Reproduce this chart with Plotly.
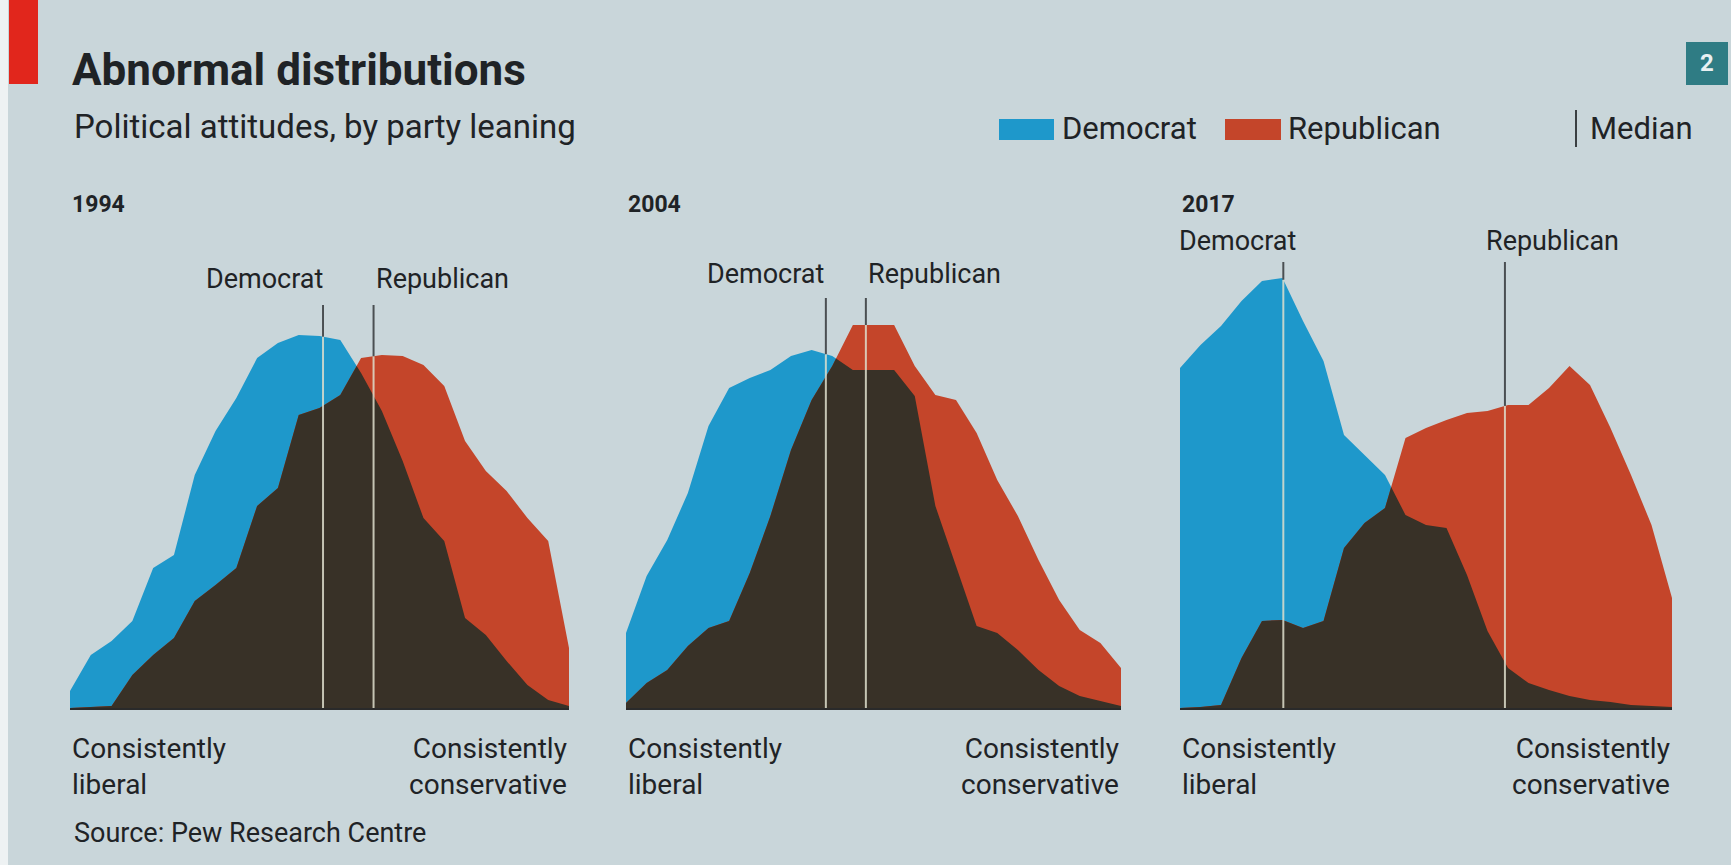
import numpy as np
import plotly.graph_objects as go

# --- data, 25 evenly spaced points per panel ---
x_idx = list(range(25))
years = ['1994', '2004', '2017']

dem_1994 = [17, 53, 67, 87, 140, 153, 233, 277, 310, 350, 365, 373, 372, 368, 335, 297, 247, 190, 167, 90, 73, 47, 23, 8, 2]
rep_1994 = [0, 1, 2, 33, 53, 70, 107, 123, 140, 202, 220, 293, 300, 313, 350, 353, 352, 343, 322, 267, 237, 217, 190, 167, 60]

dem_2004 = [75, 132, 168, 215, 282, 320, 330, 338, 352, 358, 352, 338, 338, 338, 312, 202, 142, 82, 75, 58, 38, 22, 12, 7, 2]
rep_2004 = [5, 25, 38, 62, 80, 87, 135, 192, 258, 308, 342, 383, 383, 383, 342, 313, 308, 275, 228, 192, 148, 108, 78, 65, 40]

dem_2017 = [340, 363, 382, 407, 427, 430, 387, 347, 273, 253, 233, 193, 183, 180, 133, 77, 40, 25, 18, 12, 8, 6, 3, 2, 1]
rep_2017 = [0, 1, 3, 50, 87, 88, 80, 87, 160, 185, 200, 270, 280, 288, 295, 297, 303, 303, 320, 342, 323, 280, 233, 183, 110]

median_dem = [12.17, 9.69, 5.04]
median_rep = [14.6, 11.63, 15.85]

dem_series = [dem_1994, dem_2004, dem_2017]
rep_series = [rep_1994, rep_2004, rep_2017]

# --- style ---
W, H = 1731, 865
BG = '#c9d6da'
BLUE = '#1e98cb'
RED = '#c4452a'
DARK = '#383127'
TXT = '#1f2326'
FONT = 'Roboto, "Open Sans", sans-serif'

panel_px = [(70, 569), (626, 1121), (1180, 1672)]
base_px = 708
top_px = 200
y_top = base_px - top_px
label_h = [429, 434, 467]
line_top = [403, 410, 446]
dem_shift = [2, 0, 15]
rep_shift = [0, 0, -21]


def px_x(p):
    return p / W


def px_y(p):
    return 1 - p / H


def overlap(x, a, b):
    xs, ys = [], []
    for i in range(len(x)):
        if i > 0:
            d0 = a[i - 1] - b[i - 1]
            d1 = a[i] - b[i]
            if d0 * d1 < 0:
                t = d0 / (d0 - d1)
                xs.append(x[i - 1] + t * (x[i] - x[i - 1]))
                ys.append(a[i - 1] + t * (a[i] - a[i - 1]))
        xs.append(x[i])
        ys.append(min(a[i], b[i]))
    return xs, ys


fig = go.Figure()
shapes = []
annotations = []

for k in range(3):
    sfx = '' if k == 0 else str(k + 1)
    xa, ya = 'x' + sfx, 'y' + sfx
    d, r = dem_series[k], rep_series[k]
    for ys, col in [(d, BLUE), (r, RED)]:
        fig.add_trace(go.Scatter(x=x_idx, y=ys, xaxis=xa, yaxis=ya, mode='lines',
                                 fill='tozeroy', fillcolor=col, line=dict(width=0),
                                 hoverinfo='skip', showlegend=False))
    ox, oy = overlap(x_idx, d, r)
    fig.add_trace(go.Scatter(x=ox, y=oy, xaxis=xa, yaxis=ya, mode='lines',
                             fill='tozeroy', fillcolor=DARK, line=dict(width=0),
                             hoverinfo='skip', showlegend=False))

    l, rr = panel_px[k]
    fig.layout['xaxis' + sfx] = dict(domain=[px_x(l), px_x(rr)], range=[0, 24], visible=True,
                                     showgrid=False, zeroline=False, showticklabels=False,
                                     ticks='', showline=True, linecolor='#2a2a2a', linewidth=2,
                                     anchor=ya, fixedrange=True)
    fig.layout['yaxis' + sfx] = dict(domain=[px_y(base_px), px_y(top_px)], range=[0, y_top],
                                     visible=False, anchor=xa, fixedrange=True)

    # median lines
    for med, series in [(median_dem[k], d), (median_rep[k], r)]:
        h = float(np.interp(med, x_idx, series))
        shapes.append(dict(type='line', xref=xa, yref=ya, x0=med, x1=med, y0=0, y1=h,
                           line=dict(color='rgba(222,222,205,0.85)', width=2), layer='above'))
        shapes.append(dict(type='line', xref=xa, yref=ya, x0=med, x1=med, y0=h, y1=line_top[k],
                           line=dict(color='#4a4f52', width=2), layer='above'))
    annotations.append(dict(text='Democrat', xref=xa, yref=ya, x=median_dem[k], y=label_h[k],
                            xanchor='right', yanchor='middle', xshift=dem_shift[k], showarrow=False,
                            font=dict(size=27, color=TXT, family=FONT)))
    annotations.append(dict(text='Republican', xref=xa, yref=ya, x=median_rep[k], y=label_h[k],
                            xanchor='left', yanchor='middle', xshift=rep_shift[k], showarrow=False,
                            font=dict(size=27, color=TXT, family=FONT)))

    # year + end labels
    annotations.append(dict(text='<b>' + years[k] + '</b>', xref='paper', yref='paper',
                            x=px_x(l), y=px_y(204), xanchor='left', yanchor='middle',
                            showarrow=False, font=dict(size=23, color=TXT, family=FONT)))
    annotations.append(dict(text='Consistently<br>liberal', xref='paper', yref='paper',
                            x=px_x(l), y=px_y(730), xanchor='left', yanchor='top', align='left',
                            showarrow=False, font=dict(size=28, color=TXT, family=FONT)))
    annotations.append(dict(text='Consistently<br>conservative', xref='paper', yref='paper',
                            x=px_x(rr), y=px_y(730), xanchor='right', yanchor='top', align='right',
                            showarrow=False, font=dict(size=28, color=TXT, family=FONT)))

# header
shapes.append(dict(type='rect', xref='paper', yref='paper', x0=0, x1=px_x(8), y0=0, y1=1,
                   fillcolor='#eef2f3', line=dict(width=0), layer='below'))
shapes.append(dict(type='rect', xref='paper', yref='paper', x0=px_x(9), x1=px_x(38),
                   y0=px_y(84), y1=1, fillcolor='#e1261c', line=dict(width=0)))
shapes.append(dict(type='rect', xref='paper', yref='paper', x0=px_x(1686), x1=px_x(1728),
                   y0=px_y(85), y1=px_y(42), fillcolor='#2f7c84', line=dict(width=0)))
annotations.append(dict(text='<b>2</b>', xref='paper', yref='paper', x=px_x(1707), y=px_y(63),
                        xanchor='center', yanchor='middle', showarrow=False,
                        font=dict(size=24, color='#e8f0f2', family=FONT)))
annotations.append(dict(text='<b>Abnormal distributions</b>', xref='paper', yref='paper',
                        x=px_x(70), y=px_y(70), xanchor='left', yanchor='middle', showarrow=False,
                        font=dict(size=44, color=TXT, family=FONT)))
annotations.append(dict(text='Political attitudes, by party leaning', xref='paper', yref='paper',
                        x=px_x(72), y=px_y(127), xanchor='left', yanchor='middle', showarrow=False,
                        font=dict(size=33, color=TXT, family=FONT)))

# legend
shapes.append(dict(type='rect', xref='paper', yref='paper', x0=px_x(999), x1=px_x(1054),
                   y0=px_y(140), y1=px_y(119), fillcolor=BLUE, line=dict(width=0)))
shapes.append(dict(type='rect', xref='paper', yref='paper', x0=px_x(1225), x1=px_x(1281),
                   y0=px_y(140), y1=px_y(119), fillcolor=RED, line=dict(width=0)))
shapes.append(dict(type='line', xref='paper', yref='paper', x0=px_x(1576), x1=px_x(1576),
                   y0=px_y(147), y1=px_y(110), line=dict(color='#3a3f42', width=2)))
for txt, xp in [('Democrat', 1060), ('Republican', 1286), ('Median', 1588)]:
    annotations.append(dict(text=txt, xref='paper', yref='paper', x=px_x(xp), y=px_y(129),
                            xanchor='left', yanchor='middle', showarrow=False,
                            font=dict(size=31, color=TXT, family=FONT)))

annotations.append(dict(text='Source: Pew Research Centre', xref='paper', yref='paper',
                        x=px_x(72), y=px_y(833), xanchor='left', yanchor='middle', showarrow=False,
                        font=dict(size=27, color=TXT, family=FONT)))

fig.update_layout(width=W, height=H, margin=dict(l=0, r=0, t=0, b=0),
                  paper_bgcolor=BG, plot_bgcolor='rgba(0,0,0,0)',
                  shapes=shapes, annotations=annotations, showlegend=False)

fig.write_html('out.html', config={'displayModeBar': False},
               post_script="document.body.style.margin='0';document.body.style.overflow='hidden';")
